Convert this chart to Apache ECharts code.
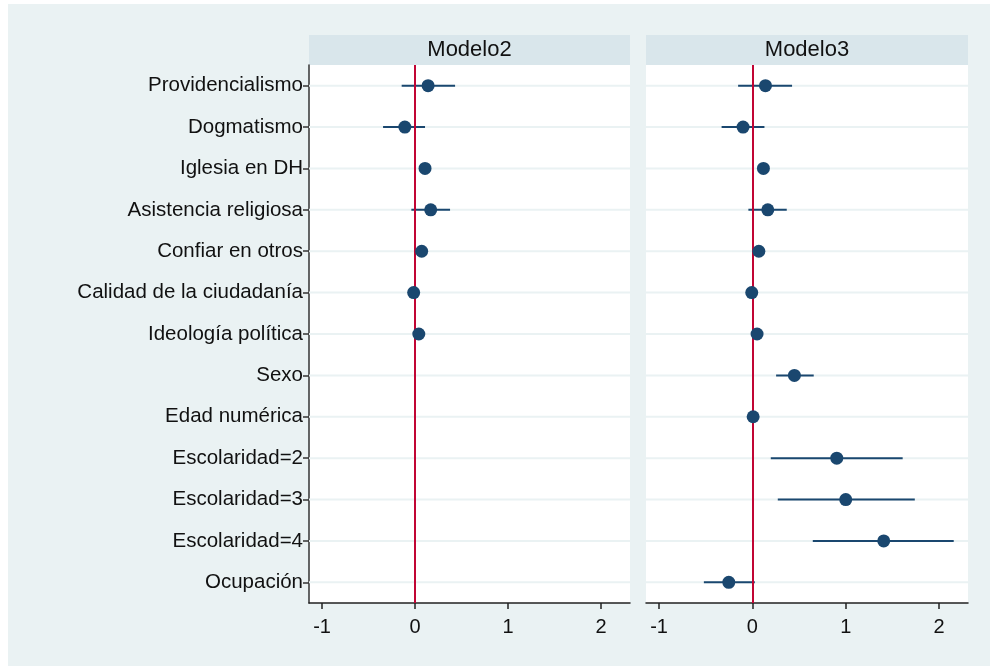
<!DOCTYPE html>
<html>
<head>
<meta charset="utf-8">
<script src="https://cdn.jsdelivr.net/npm/echarts@6/dist/echarts.min.js"></script>
<style>
html,body{margin:0;padding:0;background:#ffffff;}
#main{width:990px;height:666px;}
</style>
</head>
<body>
<div id="main"></div>
<script>
var categories = ["Providencialismo","Dogmatismo","Iglesia en DH","Asistencia religiosa","Confiar en otros","Calidad de la ciudadanía","Ideología política","Sexo","Edad numérica","Escolaridad=2","Escolaridad=3","Escolaridad=4","Ocupación"];
var panelTitles = ["Modelo2","Modelo3"];
var xTicks = [-1, 0, 1, 2];

var m2Est   = [0.14, -0.11, 0.107, 0.168, 0.071, -0.015, 0.04, null, null, null, null, null, null];
var m2Lower = [-0.144, -0.344, 0.06, -0.04, 0.03, -0.05, 0.005, null, null, null, null, null, null];
var m2Upper = [0.43, 0.107, 0.15, 0.376, 0.11, 0.02, 0.075, null, null, null, null, null, null];

var m3Est   = [0.14, -0.10, 0.118, 0.165, 0.069, -0.007, 0.05, 0.45, 0.008, 0.904, 1.0, 1.407, -0.253];
var m3Lower = [-0.153, -0.33, 0.07, -0.043, 0.03, -0.04, 0.015, 0.254, -0.01, 0.197, 0.272, 0.647, -0.52];
var m3Upper = [0.425, 0.129, 0.16, 0.368, 0.11, 0.025, 0.085, 0.657, 0.026, 1.61, 1.74, 2.157, 0.026];

var navy = '#1a476f';
var font = 'Liberation Sans, Arial, sans-serif';

function ciData(lo, hi) {
  var out = [];
  for (var i = 0; i < categories.length; i++) {
    if (lo[i] !== null && hi[i] !== null) out.push([lo[i], hi[i], i]);
  }
  return out;
}
function ptData(est) {
  var out = [];
  for (var i = 0; i < categories.length; i++) {
    if (est[i] !== null) out.push([est[i], categories[i]]);
  }
  return out;
}
function renderCI(params, api) {
  var p1 = api.coord([api.value(0), categories[api.value(2)]]);
  var p2 = api.coord([api.value(1), categories[api.value(2)]]);
  return {type: 'line', shape: {x1: p1[0], y1: p1[1], x2: p2[0], y2: p2[1]},
          style: {stroke: navy, lineWidth: 2}};
}

var grids = [
  {left: 309, top: 65, width: 321, height: 538},
  {left: 646, top: 65, width: 322, height: 538}
];

var xAxes = [0, 1].map(function (g) {
  return {
    type: 'value', gridIndex: g, min: -1.14, max: 2.31, interval: 1,
    axisLine: {show: true, onZero: false, lineStyle: {color: '#222', width: 1.5}},
    axisTick: {show: true, length: 6, lineStyle: {color: '#222', width: 1.5},
               customValues: xTicks},
    axisLabel: {color: '#111', fontSize: 20, fontFamily: font, margin: 14,
                customValues: xTicks},
    splitLine: {show: false}
  };
});

var yAxes = [0, 1].map(function (g) {
  return {
    type: 'category', gridIndex: g, data: categories, inverse: true,
    axisLine: {show: g === 0, onZero: false, lineStyle: {color: '#333', width: 1.5}},
    axisTick: {show: g === 0, alignWithLabel: true, length: 6, lineStyle: {color: '#333', width: 1.5}},
    axisLabel: {show: g === 0, color: '#111', fontSize: 20.5, fontFamily: font, margin: 6},
    splitLine: {show: false},
    boundaryGap: true
  };
});

function gridLineSeries(g) {
  return {
    type: 'custom', xAxisIndex: g, yAxisIndex: g, silent: true, z: 1,
    data: categories.map(function (c, i) { return [i]; }),
    renderItem: function (params, api) {
      var p = api.coord([0, categories[api.value(0)]]);
      var cs = params.coordSys;
      return {type: 'line', shape: {x1: cs.x, y1: p[1], x2: cs.x + cs.width, y2: p[1]},
              style: {stroke: '#eaf2f3', lineWidth: 2}};
    }
  };
}

var series = [];
[[m2Est, m2Lower, m2Upper], [m3Est, m3Lower, m3Upper]].forEach(function (d, g) {
  series.push(gridLineSeries(g));
  series.push({
    type: 'custom', xAxisIndex: g, yAxisIndex: g, z: 3,
    data: ciData(d[1], d[2]), renderItem: renderCI,
    encode: {x: [0, 1], y: 2}
  });
  series.push({
    type: 'scatter', xAxisIndex: g, yAxisIndex: g, z: 5,
    data: ptData(d[0]), symbolSize: 13,
    itemStyle: {color: navy, opacity: 1},
    markLine: {
      silent: true, symbol: 'none', label: {show: false},
      lineStyle: {color: '#c10534', width: 2, type: 'solid'},
      data: [{xAxis: 0}]
    }
  });
});

var graphics = [
  {type: 'rect', shape: {x: 8, y: 4, width: 982, height: 662}, style: {fill: '#eaf2f3'}, z: -10},
  {type: 'rect', shape: {x: 309, y: 65, width: 321, height: 538}, style: {fill: '#ffffff'}, z: -9},
  {type: 'rect', shape: {x: 646, y: 65, width: 322, height: 538}, style: {fill: '#ffffff'}, z: -9},
  {type: 'rect', shape: {x: 309, y: 35, width: 321, height: 30}, style: {fill: '#d9e6eb'}, z: -9},
  {type: 'rect', shape: {x: 646, y: 35, width: 322, height: 30}, style: {fill: '#d9e6eb'}, z: -9},
  {type: 'text', x: 469.5, y: 50, style: {text: panelTitles[0], fill: '#111', font: '22px ' + font, textAlign: 'center', textVerticalAlign: 'middle'}},
  {type: 'text', x: 807, y: 50, style: {text: panelTitles[1], fill: '#111', font: '22px ' + font, textAlign: 'center', textVerticalAlign: 'middle'}}
];

var chart = echarts.init(document.getElementById('main'), null, {renderer: 'canvas'});
chart.setOption({
  backgroundColor: '#ffffff',
  animation: false,
  grid: grids,
  xAxis: xAxes,
  yAxis: yAxes,
  graphic: graphics,
  series: series
});
</script>
</body>
</html>
